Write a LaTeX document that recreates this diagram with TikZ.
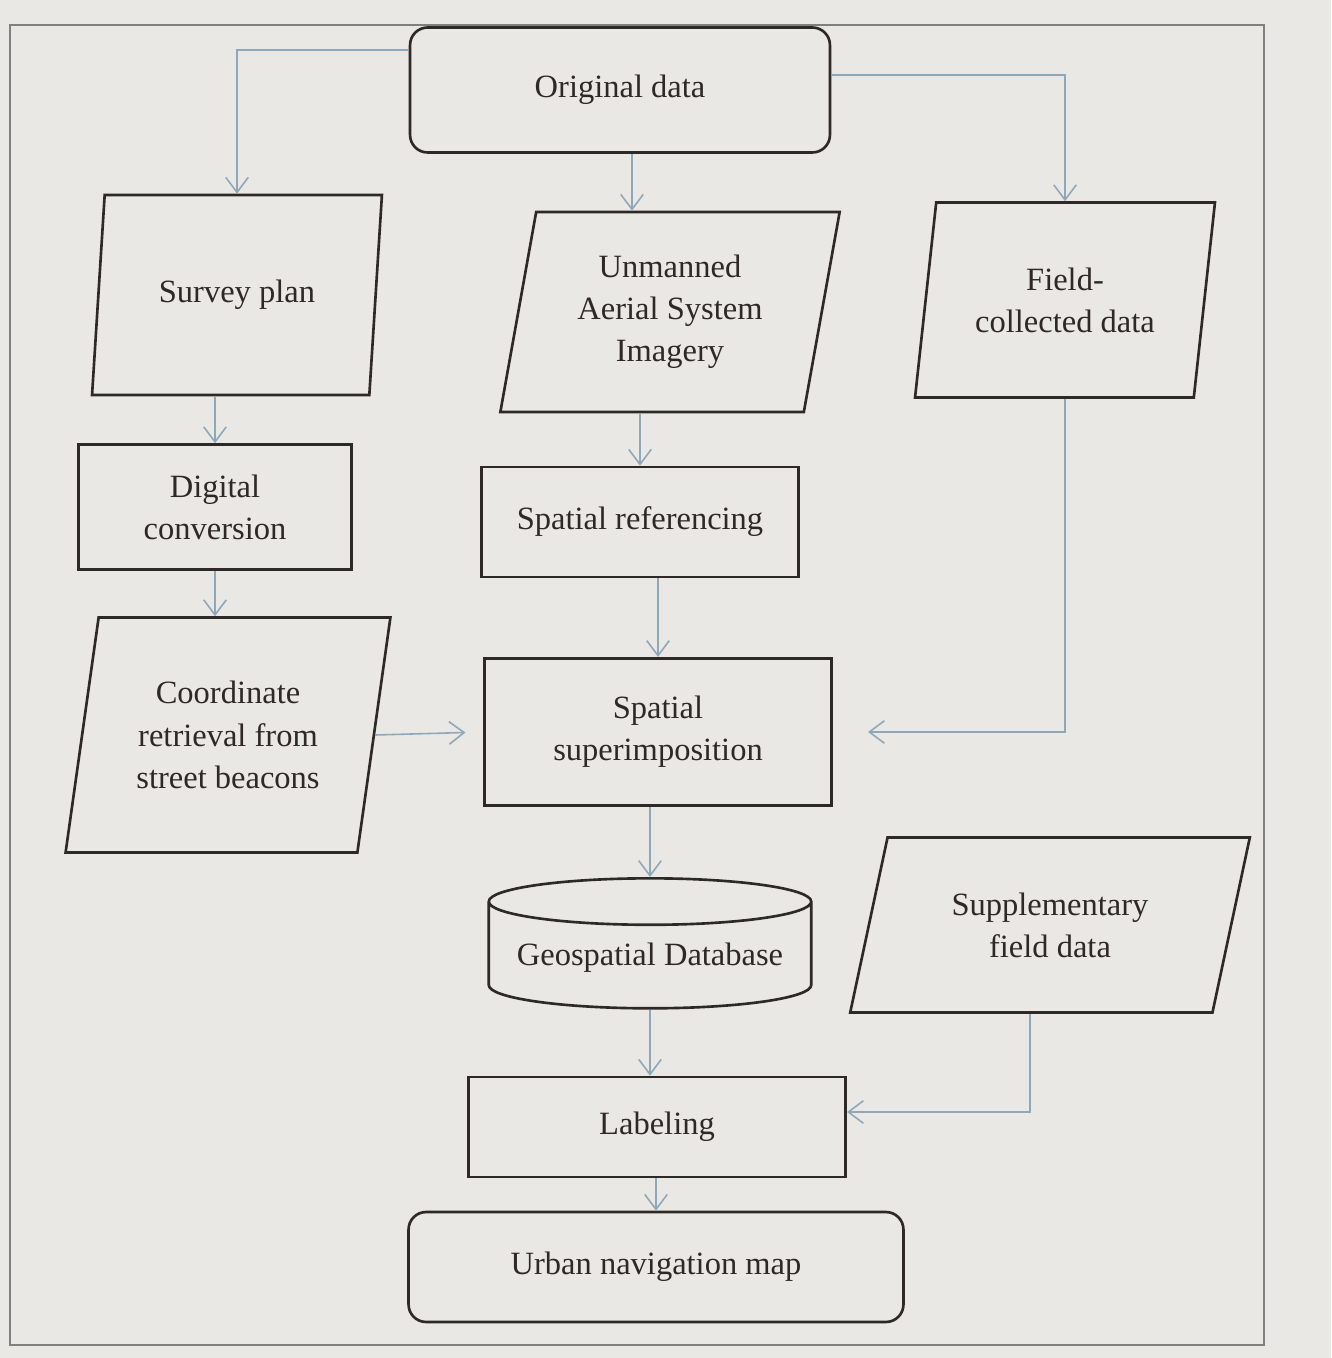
\documentclass[tikz,border=0pt]{standalone}
\usepackage{fontspec}
\setmainfont{Liberation Serif}
\usetikzlibrary{shapes.geometric,arrows.meta}
\definecolor{paper}{HTML}{E9E8E4}
\definecolor{ink}{HTML}{2E2826}
\definecolor{flow}{HTML}{8EA8B9}
\tikzset{
  box/.style={draw=ink,line width=1.5pt,text=ink,align=center,
    font=\fontsize{18.5}{24}\selectfont,inner sep=2pt},
  rbox/.style={box,rectangle,rounded corners=10pt},
  para/.style={box,trapezium,trapezium left angle=78,trapezium right angle=102,
    trapezium stretches=true},
  arr/.style={draw=flow,line width=0.9pt,-{Straight Barb[length=3mm,width=4.5mm]}}
}
\begin{document}
\begin{tikzpicture}[x=0.02cm,y=-0.02cm]
\fill[paper] (0,0) rectangle (1331,1358);
\useasboundingbox (0,0) rectangle (1331,1358);
\draw[gray,line width=0.8pt] (10,25) rectangle (1264,1345);

\node[rbox,minimum width=8.4cm,minimum height=2.5cm] (orig) at (620,90) {Original data};

\node[para,minimum width=5.8cm,minimum height=4cm] (survey) at (237,295) {Survey plan};
\node[para,minimum width=6.8cm,minimum height=4cm] (uas) at (670,312)
  {Unmanned\\Aerial System\\Imagery};
\node[para,minimum width=6cm,minimum height=3.9cm] (field) at (1065,300)
  {Field-\\collected data};

\node[box,rectangle,minimum width=5.45cm,minimum height=2.5cm] (digital) at (215,507)
  {Digital\\conversion};
\node[box,rectangle,minimum width=6.35cm,minimum height=2.2cm] (spref) at (640,522)
  {Spatial referencing};

\node[para,minimum width=6.5cm,minimum height=4.7cm] (coord) at (228,735)
  {Coordinate\\retrieval from\\street beacons};
\node[box,rectangle,minimum width=6.95cm,minimum height=2.95cm] (super) at (658,732)
  {Spatial\\superimposition};

\node[box,cylinder,shape border rotate=90,aspect=0.17,
  minimum width=6.45cm,minimum height=2.6cm] (db) at (650,958) {Geospatial Database};
\node[para,trapezium left angle=72,trapezium right angle=108,
  minimum width=8cm,minimum height=3.5cm] (supp) at (1050,925)
  {Supplementary\\field data};

\node[box,rectangle,minimum width=7.55cm,minimum height=2cm] (label) at (657,1127) {Labeling};
\node[rbox,minimum width=9.9cm,minimum height=2.2cm] (nav) at (656,1267)
  {Urban navigation map};

\draw[arr] ([yshift=0.8cm]orig.west) -| (survey.north);
\draw[arr] ([yshift=0.3cm]orig.east) -| (field.north);
\draw[arr] ([xshift=0.24cm]orig.south) -- ([xshift=0.24cm]orig.south |- uas.north);
\draw[arr] (survey.south -| digital) -- (digital.north);
\draw[arr] (digital.south) -- (digital.south |- coord.north);
\draw[arr] (uas.south -| spref) -- (spref.north);
\draw[arr] (spref.south -| super) -- (super.north);
\draw[arr,shorten >=0.35cm] (coord.east) -- (super.west);
\draw[arr,shorten >=0.7cm] (field.south) |- (super.east);
\draw[arr] (super.south -| db) -- (db.north);
\draw[arr] (db.south) -- (db.south |- label.north);
\draw[arr] ([xshift=-0.4cm]supp.south) |- ([yshift=0.3cm]label.east);
\draw[arr] (label.south -| nav) -- (nav.north);
\end{tikzpicture}
\end{document}
